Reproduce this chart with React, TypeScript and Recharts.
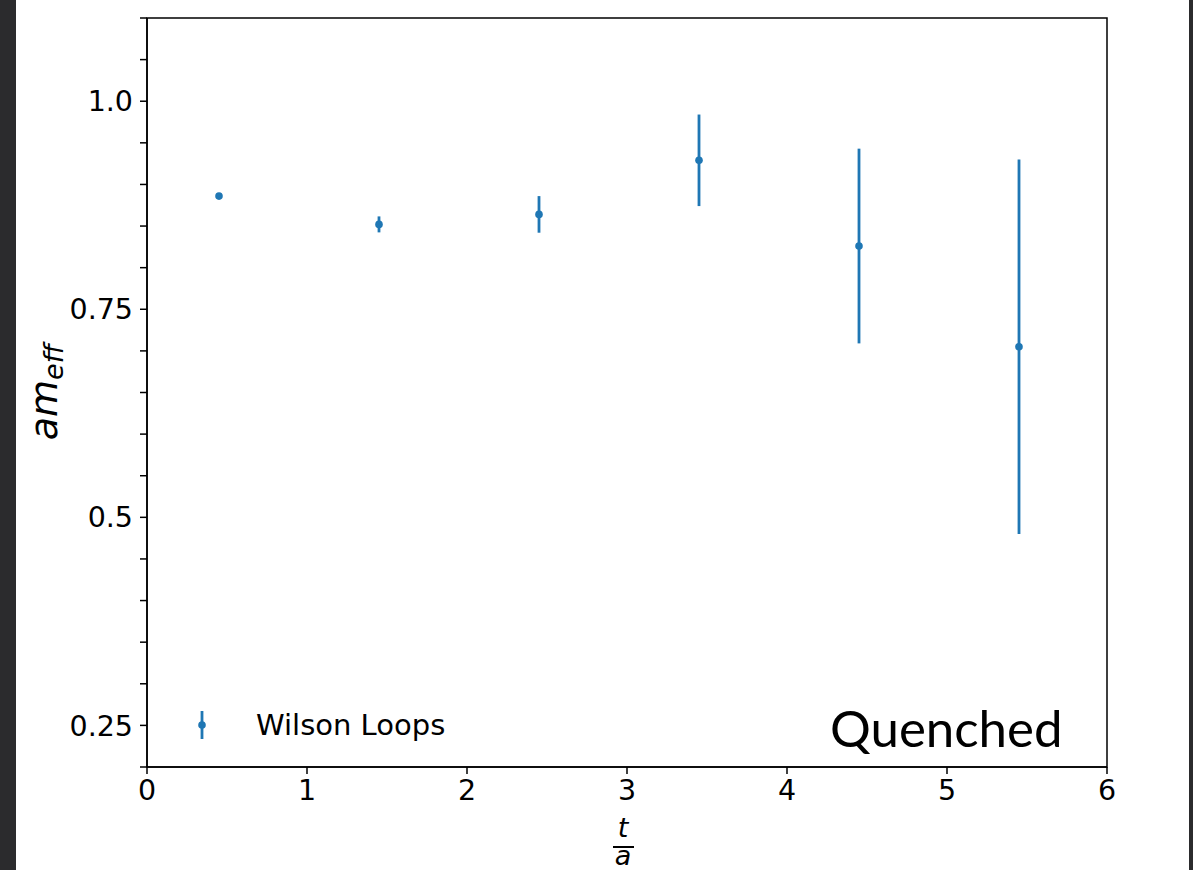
import {
  ScatterChart,
  Scatter,
  XAxis,
  YAxis,
  ErrorBar,
  ReferenceArea,
} from "recharts";

// effective mass from Wilson loops, quenched run
const tValues = [0.45, 1.45, 2.45, 3.45, 4.45, 5.45];
const mEff = [0.886, 0.852, 0.864, 0.929, 0.826, 0.705];
const mErr = [0.003, 0.0096, 0.022, 0.055, 0.117, 0.225];

const xTicks = [0, 1, 2, 3, 4, 5, 6];
const yTicks = [
  0.2, 0.25, 0.3, 0.35, 0.4, 0.45, 0.5, 0.55, 0.6, 0.65, 0.7, 0.75, 0.8,
  0.85, 0.9, 0.95, 1.0, 1.05, 1.1,
];
const yTickLabels: Record<string, string> = {
  "0.25": "0.25",
  "0.50": "0.5",
  "0.75": "0.75",
  "1.00": "1.0",
};

const BLUE = "#1f77b4";
const FONT = "DejaVu Sans, sans-serif";

const data = tValues.map((t, i) => ({ t, m: mEff[i], err: mErr[i] }));

const Dot = (p: any) => <circle cx={p.cx} cy={p.cy} r={3.8} fill={BLUE} />;

const App = () => {
  const tickStyle = { fontFamily: FONT, fontSize: 28.5, fill: "#000" };
  return (
    <div
      style={{
        position: "absolute",
        left: 0,
        top: 0,
        width: 1193,
        height: 870,
        background: "#2b2b2d",
      }}
    >
      <div
        style={{
          position: "absolute",
          left: 16,
          top: 0,
          width: 1173,
          height: 870,
          background: "#fff",
        }}
      />
      <div style={{ position: "absolute", left: 0, top: 0 }}>
        <ScatterChart
          width={1193}
          height={870}
          margin={{ top: 18, right: 86, bottom: 43, left: 47 }}
        >
          <XAxis
            type="number"
            dataKey="t"
            domain={[0, 6]}
            ticks={xTicks}
            interval={0}
            height={60}
            tick={tickStyle}
            tickSize={7}
            tickMargin={6}
            axisLine={{ stroke: "#000", strokeWidth: 1.5 }}
            tickLine={{ stroke: "#000", strokeWidth: 1.5 }}
            allowDataOverflow
          />
          <YAxis
            type="number"
            dataKey="m"
            domain={[0.2, 1.1]}
            ticks={yTicks}
            interval={0}
            width={100}
            tick={tickStyle}
            tickSize={7}
            tickMargin={7}
            tickFormatter={(v: number) => yTickLabels[v.toFixed(2)] ?? ""}
            axisLine={{ stroke: "#000", strokeWidth: 1.5 }}
            tickLine={{ stroke: "#000", strokeWidth: 1.5 }}
            allowDataOverflow
          />
          <ReferenceArea
            x1={0}
            x2={6}
            y1={0.2}
            y2={1.1}
            fill="none"
            stroke="#000"
            strokeWidth={1.5}
          />
          <Scatter data={data} shape={Dot} isAnimationActive={false}>
            <ErrorBar
              dataKey="err"
              direction="y"
              width={0}
              stroke={BLUE}
              strokeWidth={2.8}
            />
          </Scatter>
        </ScatterChart>
      </div>
      <svg
        width={1193}
        height={870}
        style={{ position: "absolute", left: 0, top: 0, pointerEvents: "none" }}
      >
        <text
          transform="translate(57,392) rotate(-90)"
          textAnchor="middle"
          fontFamily={FONT}
          fontStyle="italic"
          fontSize={38}
          fill="#000"
        >
          am
          <tspan fontSize={27} dy={6}>
            eff
          </tspan>
        </text>
        <text
          x={623}
          y={837}
          textAnchor="middle"
          fontFamily={FONT}
          fontStyle="italic"
          fontSize={27}
          fill="#000"
        >
          t
        </text>
        <line x1={613} x2={634} y1={847} y2={847} stroke="#000" strokeWidth={2} />
        <text
          x={623}
          y={865}
          textAnchor="middle"
          fontFamily={FONT}
          fontStyle="italic"
          fontSize={27}
          fill="#000"
        >
          a
        </text>
        <line x1={202} x2={202} y1={711} y2={739} stroke={BLUE} strokeWidth={2.8} />
        <circle cx={202} cy={725} r={3.8} fill={BLUE} />
        <text x={256} y={735} fontFamily={FONT} fontSize={29} fill="#000">
          Wilson Loops
        </text>
        <text x={830} y={747} fontFamily="Lato, sans-serif" fontSize={51} fill="#000">
          Quenched
        </text>
      </svg>
    </div>
  );
};

export default App;
